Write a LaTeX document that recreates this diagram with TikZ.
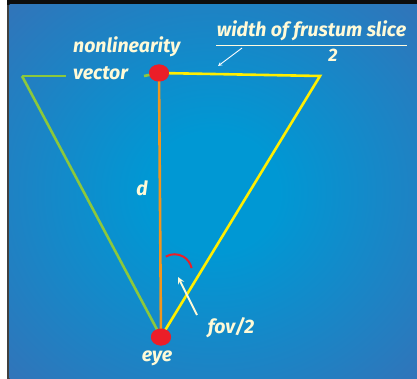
\documentclass[tikz,border=0pt]{standalone}
\usepackage{fontspec}
\setmainfont{Fira Sans}
\usetikzlibrary{shapes.geometric, arrows}
\definecolor{cream}{RGB}{255,250,215}
\definecolor{skyc}{RGB}{0,152,212}
\definecolor{skyo}{RGB}{66,104,176}
\definecolor{dotred}{RGB}{235,30,40}
\definecolor{lgreen}{RGB}{140,200,60}
\definecolor{lyellow}{RGB}{255,238,0}
\definecolor{lorange}{RGB}{240,150,30}
\pgfdeclareradialshading{glow}{\pgfpoint{0bp}{0bp}}{color(0bp)=(skyc); color(8bp)=(skyc); color(45bp)=(skyo); color(80bp)=(skyo)}

\begin{document}
\begin{tikzpicture}[x=1pt, y=-1pt, >=stealth,
		lbl/.style={text=cream, inner sep=0pt, font=\bfseries\itshape\fontsize{19.5}{22}\selectfont},
		dot/.style={ellipse, fill=dotred, minimum width=20pt, minimum height=17pt, inner sep=0pt},
		edge/.style={line width=2.6pt}]
		
		% frame and background
		\useasboundingbox (0,0) rectangle (417,379);
		\fill[white] (0,0) rectangle (417,379);
		\fill[black!75] (7,0) rectangle (9.5,379);
		\fill[black!95] (7,0) rectangle (417,5);
		\shade[shading=glow] (9.5,5) rectangle (417,379);
		
		\coordinate (lc) at (22,76);
		\coordinate (rc) at (320,76);
		\coordinate (gl) at (66,76);
		\coordinate (gr) at (144,76);
		
		\node[dot] (nlv) at (159,73) {};
		\node[dot] (eye) at (161,337) {};
		
		\draw[edge, lgreen] (lc) -- (gl);
		\draw[edge, lgreen] (gr) -- (nlv.center);
		\draw[edge, lgreen] (lc) -- (eye.center);
		\draw[edge, lyellow] (nlv.center) -- (rc) -- (eye.center);
		\draw[edge, lorange] (nlv.center) -- (eye.center);
		\node[dot] at (nlv) {};
		\node[dot] at (eye) {};
		
		% labels
		\node[lbl, anchor=base west] (nl) at (73,53) {nonlinearity};
		\node[lbl, anchor=base west] (vec) at (73,80) {vector};
		\node[lbl, anchor=base] (d) at (142,196) {d};
		\node[lbl, anchor=base] (eyel) at (157,361) {eye};
		\node[lbl, anchor=base] (fov) at (231,333) {fov/2};
		
		% fraction
		\node[lbl, anchor=base] (wfs) at (311.5,37) {width of frustum slice};
		\coordinate (fl) at (216,45);
		\coordinate (fr) at (407,45);
		\draw[cream!80!white, line width=0.8pt] (fl) -- (fr);
		\node[lbl, anchor=base, font=\bfseries\itshape\fontsize{18}{20}\selectfont] (half) at (333,62) {2};
		\coordinate (wt) at (242,48);
		\coordinate (wh) at (218,66);
		\draw[->, white, line width=0.9pt] (wt) -- (wh);
		
		% half angle
		\draw[dotred, line width=2pt] (165.75,256.6) arc[start angle=-120, end angle=-12, radius=17.5];
		\coordinate (ft) at (197,315);
		\coordinate (fh) at (178,277);
		\draw[->, cream, line width=2pt] (ft) -- (fh);
		
	\end{tikzpicture}
\end{document}
